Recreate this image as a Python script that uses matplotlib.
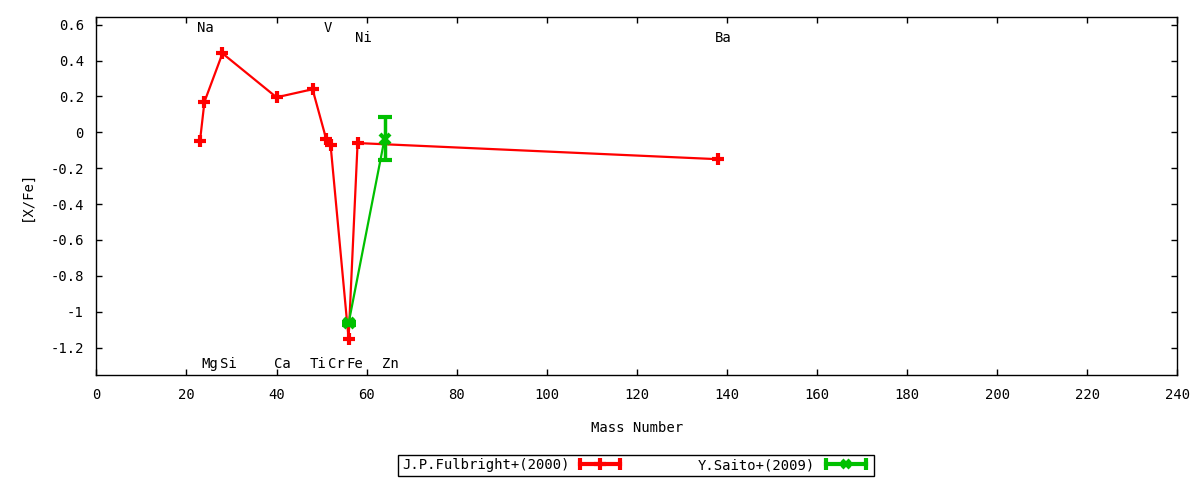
import numpy as np
import matplotlib
matplotlib.use("Agg")
import matplotlib.pyplot as plt
from matplotlib.lines import Line2D
from matplotlib.legend_handler import HandlerLine2D, HandlerTuple

plt.rcParams['font.family'] = ['DejaVu Sans Mono']
plt.rcParams['font.size'] = 10

# J.P.Fulbright+(2000)
fulb_mass = [23, 24, 28, 40, 48, 51, 52, 56, 58, 138]
fulb_xfe = [-0.05, 0.17, 0.44, 0.195, 0.24, -0.035, -0.07, -1.15, -0.06, -0.15]

# Y.Saito+(2009)
saito_mass = [56, 64]
saito_xfe = [-1.065, -0.035]
saito_err = [0.01, 0.12]

# element labels: name, mass, y position
top_elems = ['Na', 'V', 'Ni', 'Ba']
top_mass = [23, 51, 58, 138]
top_y = [0.58, 0.58, 0.525, 0.525]
bot_elems = ['Mg', 'Si', 'Ca', 'Ti', 'Cr', 'Fe', 'Zn']
bot_mass = [24, 28, 40, 48, 52, 56, 64]
bot_y = -1.29

red = '#ff0000'
green = '#00c000'

fig = plt.figure(figsize=(12, 4.8), dpi=100)
ax = fig.add_axes([0.0803, 0.2181, 0.9008, 0.7458])

ax.plot(fulb_mass, fulb_xfe, color=red, lw=1.6, marker='+', ms=9, mew=3, zorder=3)
ax.errorbar(saito_mass, saito_xfe, yerr=saito_err, color=green, lw=1.6,
            marker='x', ms=7, mew=3, capsize=5, capthick=2.5, elinewidth=2.5, zorder=4)

for name, m, y in zip(top_elems, top_mass, top_y):
    ax.text(m - 0.6, y, name, ha='left', va='center')
for name, m in zip(bot_elems, bot_mass):
    ax.text(m - 0.6, bot_y, name, ha='left', va='center')

ax.set_xlim(0, 240)
ax.set_ylim(-1.355, 0.641)
ax.set_xticks(np.arange(0, 241, 20))
ax.set_yticks([-1.2, -1, -0.8, -0.6, -0.4, -0.2, 0, 0.2, 0.4, 0.6])
ax.set_yticklabels(['-1.2', '-1', '-0.8', '-0.6', '-0.4', '-0.2', '0', '0.2', '0.4', '0.6'])
ax.tick_params(direction='in', top=True, right=True, length=4.5, width=1, pad=9)
for s in ax.spines.values():
    s.set_linewidth(1)

ax.set_xlabel('Mass Number', labelpad=14)
ax.set_ylabel('[X/Fe]', labelpad=12)

# gnuplot-style legend samples: line with end caps and a marker in the middle
def sample(color, marker, ms):
    capline = Line2D([], [], color=color, lw=3, marker='|', ms=8, mew=3)
    mk = Line2D([], [], color=color, lw=0, marker=marker, ms=ms, mew=3)
    return capline, mk

r_cap, r_mk = sample(red, '+', 8)
g_cap, g_mk = sample(green, 'x', 6)
hmap = {r_cap: HandlerLine2D(numpoints=2), g_cap: HandlerLine2D(numpoints=2),
        tuple: HandlerTuple(ndivide=1, pad=0)}
leg = fig.legend([(r_cap, r_mk), (g_cap, g_mk)],
                 ['J.P.Fulbright+(2000)', 'Y.Saito+(2009)'],
                 handler_map=hmap, loc='center', bbox_to_anchor=(0.53, 0.031),
                 ncol=2, markerfirst=False, fancybox=False, edgecolor='black',
                 framealpha=1, handlelength=3.5, handletextpad=0.45,
                 columnspacing=5.3, borderpad=0.25, borderaxespad=0)
leg.get_frame().set_linewidth(1)

fig.savefig('out.png', dpi=100)
